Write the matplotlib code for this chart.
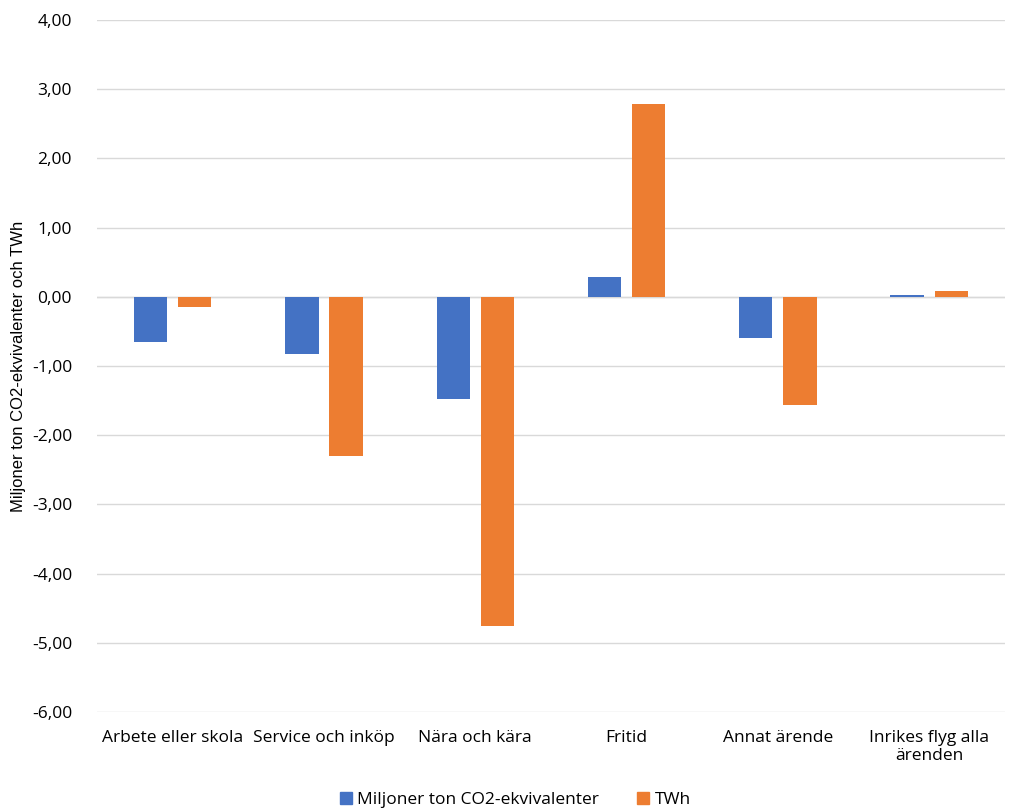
import numpy as np
import matplotlib.pyplot as plt
from matplotlib.patches import Patch
from matplotlib.ticker import FuncFormatter

# Förändring per ärende
categories = ['Arbete eller skola', 'Service och inköp', 'Nära och kära',
              'Fritid', 'Annat ärende', 'Inrikes flyg alla\närenden']
co2 = [-0.65, -0.82, -1.47, 0.28, -0.59, 0.03]
twh = [-0.15, -2.30, -4.75, 2.78, -1.57, 0.08]

blue = '#4472C4'
orange = '#ED7D31'

plt.rcParams['font.family'] = ['Open Sans', 'DejaVu Sans']

fig = plt.figure(figsize=(10.14, 8.11), dpi=100)
ax = fig.add_axes([0.0957, 0.122, 0.8953, 0.8533])

x = np.arange(len(categories))
w = 0.22
ax.bar(x - 0.146, co2, width=w, color=blue, zorder=3)
ax.bar(x + 0.146, twh, width=w, color=orange, zorder=3)

ax.set_xlim(-0.5, len(categories) - 0.5)
ax.set_ylim(-6, 4)
ax.set_yticks(np.arange(-6, 5, 1))
ax.yaxis.set_major_formatter(FuncFormatter(lambda v, p: f'{v:.2f}'.replace('.', ',')))
ax.grid(axis='y', color='#d9d9d9', linewidth=1, zorder=0)
ax.axhline(0, color='#d9d9d9', linewidth=1, zorder=1)

for s in ax.spines.values():
    s.set_visible(False)
ax.tick_params(axis='both', length=0, labelsize=12.5, colors='#000000')
ax.tick_params(axis='y', pad=18)
ax.tick_params(axis='x', pad=13)
ax.set_xticks(x)
ax.set_xticklabels(categories, linespacing=1.15)

ax.set_ylabel('Miljoner ton CO2-ekvivalenter och TWh', fontsize=12,
              family='Liberation Sans')
ax.yaxis.set_label_coords(-0.078, 0.5)

handles = [Patch(color=blue, label='Miljoner ton CO2-ekvivalenter'),
           Patch(color=orange, label='TWh')]
fig.legend(handles=handles, loc='lower center', bbox_to_anchor=(0.508, -0.016),
           ncol=2, frameon=False, fontsize=12.5, handlelength=0.7,
           handleheight=0.7, handletextpad=0.3, columnspacing=2.2)

fig.savefig('out.png', dpi=100)
